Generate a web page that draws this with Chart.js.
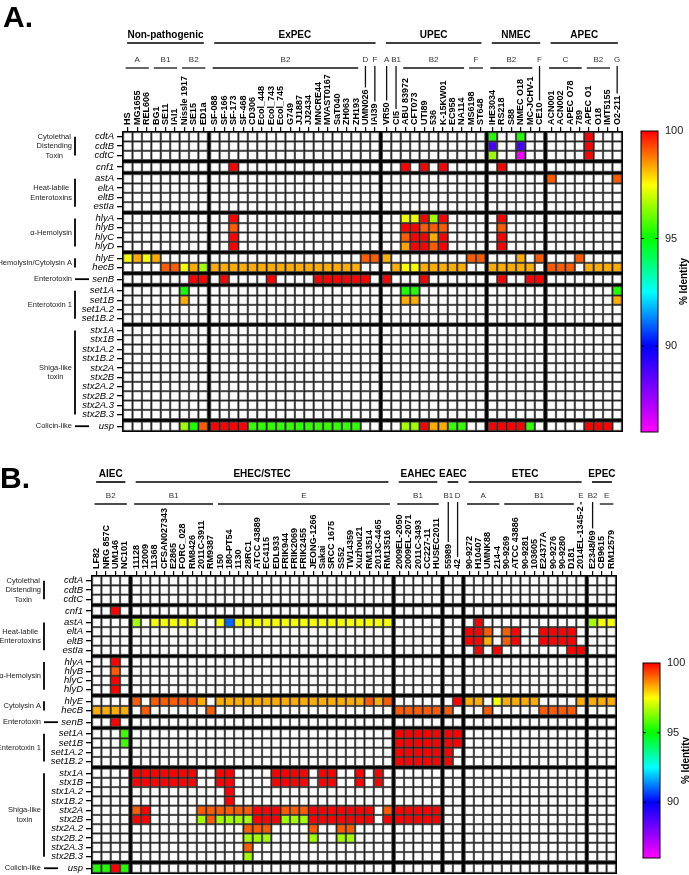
<!DOCTYPE html>
<html>
<head>
<meta charset="utf-8">
<script src="https://cdn.jsdelivr.net/npm/chart.js@4.4.1/dist/chart.umd.min.js"></script>
<style>
  body { margin: 0; background: #fff; width: 689px; height: 875px; overflow: hidden; position: relative; }
  canvas { position: absolute; left: 0; }
  #panelA { top: 0; }
  #panelB { top: 440px; }
</style>
</head>
<body>
<canvas id="panelA" width="689" height="440"></canvas>
<canvas id="panelB" width="689" height="435"></canvas>
<script>
// ---- rows (genes) shared by both panels ----
const genes = ['cdtA','cdtB','cdtC','cnf1','astA','eltA','eltB','estIa','hlyA','hlyB','hlyC','hlyD',
  'hlyE','hecB','senB','set1A','set1B','set1A.2','set1B.2','stx1A','stx1B','stx1A.2','stx1B.2',
  'stx2A','stx2B','stx2A.2','stx2B.2','stx2A.3','stx2B.3','usp'];
const geneBreaks = [3, 4, 8, 12, 14, 15, 19, 29];   // first row of each new block

// ---- panel A columns ----
const strainsA = ['HS','MG1655','REL606','BG1','SE11','IAI1','Nissle 1917','SE15','ED1a',
  'SF-088','SF-166','SF-173','SF-468','CD306','Ecol_448','Ecol_743','Ecol_745','G749','JJ1887','JJ2434',
  'MNCRE44','MVAST0167','SaT040','ZH063','ZH193','UMN026','IAI39',
  'VR50','CI5','ABU 83972','CFT073','UTI89','536','K-15KW01','EC958','NA114','MS6198','ST648',
  'IHE3034','RS218','S88','NMEC O18','MC-JCHV-1','CE10',
  'ACN001','ACN002','APEC O78','789','APEC O1','O18','IMT5155','O2-211'];
const pathotypesA = [['Non-pathogenic',0,8],['ExPEC',9,26],['UPEC',27,37],['NMEC',38,43],['APEC',44,51]];
const phylogroupsA = [['A',0,2],['B1',3,5],['B2',6,8],['B2',9,24],['D',25,25],['F',26,26],['A',27,27],
  ['B1',28,28],['B2',29,35],['F',36,37],['B2',38,42],['F',43,43],['C',44,47],['B2',48,50],['G',51,51]];
const geneGroupsA = [['Cytolethal\nDistending\nToxin',0,2],['Heat-labile\nEnterotoxins',4,7],['α-Hemolysin',8,11],
  ['Hemolysin/Cytolysin A',12,13],['Enterotoxin',14,14],['Enterotoxin 1',15,18],['Shiga-like\ntoxin',19,28],['Colicin-like',29,29]];

// ---- panel A % identity (strain, value) ----
const A_cdtA = [['IHE3034',95.3],['NMEC O18',95.3],['APEC O1',100]];
const A_cdtB = [['IHE3034',88.9],['NMEC O18',88.9],['APEC O1',100]];
const A_cdtC = [['IHE3034',96.5],['NMEC O18',86.2],['APEC O1',100]];
const A_cnf1 = [['SF-173',100],['ABU 83972',100],['UTI89',100],['K-15KW01',100],['RS218',100]];
const A_astA = [['ACN001',99.1],['O2-211',99.1]];
const A_hlyA = [['SF-173',100],['ABU 83972',97.3],['CFT073',97.3],['UTI89',100],['536',96.6],['K-15KW01',100],['RS218',100]];
const A_hlyB = [['SF-173',99.1],['ABU 83972',100],['CFT073',100],['UTI89',99.1],['536',99.1],['K-15KW01',99.1],['RS218',99.1]];
const A_hlyC = [['SF-173',100],['ABU 83972',99.1],['CFT073',100],['UTI89',100],['536',98.3],['K-15KW01',100],['RS218',100]];
const A_hlyD = [['SF-173',100],['ABU 83972',98.4],['CFT073',100],['UTI89',100],['536',99.1],['K-15KW01',100],['RS218',100]];
const A_hlyE = [['HS',97.4],['MG1655',98.3],['REL606',97.4],['BG1',98.3],['UMN026',99.1],['IAI39',99.1],['VR50',98.3],
  ['MS6198',99.1],['ST648',99.1],['NMEC O18',98.3],['CE10',99.1],['789',99.1]];
const A_hecB = [['SE11',99.1],['IAI1',99.1],['Nissle 1917',97.4],['SE15',98.3],['ED1a',96.6],
  ['SF-088',98.3],['SF-166',98.3],['SF-173',98.3],['SF-468',98.3],['CD306',98.3],['Ecol_448',98.3],['Ecol_743',98.3],
  ['Ecol_745',98.3],['G749',98.3],['JJ1887',98.3],['JJ2434',98.3],['MNCRE44',98.3],['MVAST0167',98.3],['SaT040',98.3],
  ['ZH063',98.3],['ZH193',98.3],['CI5',98.3],['ABU 83972',97.4],['CFT073',97.4],['UTI89',98.3],['536',98.3],
  ['K-15KW01',98.3],['EC958',98.3],['NA114',98.3],['IHE3034',98.3],['RS218',98.3],['S88',98.3],['NMEC O18',98.3],
  ['MC-JCHV-1',98.3],['ACN001',99.1],['ACN002',99.1],['APEC O78',99.1],['APEC O1',98.3],['O18',98.3],['IMT5155',98.3],['O2-211',98.3]];
const A_senB = [['SE15',100],['ED1a',100],['SF-166',100],['Ecol_743',100],['MNCRE44',100],['MVAST0167',100],['SaT040',100],
  ['ZH063',100],['ZH193',100],['UMN026',100],['VR50',100],['UTI89',100],['RS218',100],['MC-JCHV-1',100],['CE10',100]];
const A_set1A = [['Nissle 1917',95.2],['ABU 83972',95.3],['CFT073',95.3],['O2-211',95.3]];
const A_set1B = [['Nissle 1917',98.3],['ABU 83972',98.3],['CFT073',98.3],['O2-211',98.3]];
const A_usp = [['Nissle 1917',96.6],['SE15',95.3],['ED1a',99.1],['SF-088',100],['SF-166',100],['SF-173',100],['SF-468',100],
  ['CD306',95.5],['Ecol_448',95.5],['Ecol_743',95.5],['Ecol_745',95.5],['G749',95.5],['JJ1887',95.5],['JJ2434',95.5],
  ['MNCRE44',95.5],['MVAST0167',95.5],['SaT040',95.5],['ZH063',95.5],['ZH193',95.5],['ABU 83972',96.6],['CFT073',96.6],
  ['UTI89',100],['536',98.3],['K-15KW01',98.3],['EC958',95.5],['NA114',95.5],['IHE3034',100],['RS218',100],['S88',100],
  ['NMEC O18',100],['MC-JCHV-1',95.5],['APEC O1',100],['O18',100],['IMT5155',100]];

// ---- panel B columns ----
const strainsB = ['LF82','NRG 857C','UM146','NC101',
  '11128','12009','11368','CFSAN027343','E2865','FORC_028','RM8426','2011C-3911','RM9387',
  '150','180-PT54','1130','28RC1','ATCC 43889','EC4115','EDL933','FRIK944','FRIK2069','FRIK2455','JEONG-1266',
  'Sakai','SRCC 1675','SS52','TW14359','Xuzhou21','RM13514','2013C-4465','RM13516',
  '2009EL-2050','2009EL-2071','2011C-3493','CC227-11','HUSEC2011','55989','42',
  '90-9272','H10407','UMNK88','214-4','90-9269','ATCC 43886','90-9281','103605','E24377A','90-9276','90-9280','D181','2014EL-1345-2',
  'E2348/69','CB9615','RM12579'];
const pathotypesB = [['AIEC',0,3],['EHEC/STEC',4,31],['EAHEC',32,36],['EAEC',37,38],['ETEC',39,51],['EPEC',52,54]];
const phylogroupsB = [['B2',0,3],['B1',4,12],['E',13,31],['B1',32,36],['B1',37,37],['D',38,38],['A',39,42],
  ['B1',43,50],['E',51,51],['B2',52,52],['E',53,54]];
const geneGroupsB = [['Cytolethal\nDistending\nToxin',0,2],['Heat-labile\nEnterotoxins',4,7],['α-Hemolysin',8,11],
  ['Cytolysin A',12,13],['Enterotoxin',14,14],['Enterotoxin 1',15,18],['Shiga-like\ntoxin',19,28],['Colicin-like',29,29]];

// ---- panel B % identity (strain, value) ----
const B_cnf1 = [['UM146',100]];
const B_astA = [['11128',96.6],['11368',97.4],['CFSAN027343',97.4],['E2865',97.4],['FORC_028',97.4],['RM8426',97.4],
  ['150',97.4],['180-PT54',91],['1130',97.4],['28RC1',97.4],['ATCC 43889',97.4],['EC4115',97.4],['EDL933',97.4],
  ['FRIK944',97.4],['FRIK2069',97.4],['FRIK2455',97.4],['JEONG-1266',97.4],['Sakai',97.4],['SRCC 1675',97.4],['SS52',97.4],
  ['TW14359',97.4],['Xuzhou21',97.4],['RM13514',97.4],['2013C-4465',97.4],['RM13516',97.4],['H10407',100],
  ['E2348/69',96.6],['CB9615',97.4],['RM12579',97.4]];
const B_eltA = [['90-9272',100],['H10407',100],['UMNK88',99.1],['90-9269',99.1],['ATCC 43886',100],['E24377A',100],
  ['90-9276',100],['90-9280',100],['D181',100]];
const B_eltB = [['90-9272',100],['H10407',100],['UMNK88',98.3],['90-9269',99.1],['ATCC 43886',100],['E24377A',100],
  ['90-9276',100],['90-9280',100],['D181',100]];
const B_estIa = [['H10407',100],['214-4',100],['D181',100],['2014EL-1345-2',100]];
const B_hlyA = [['UM146',100]];
const B_hlyB = [['UM146',99.1]];
const B_hlyC = [['UM146',100]];
const B_hlyD = [['UM146',100]];
const B_hlyE = [['11128',99.1],['11368',99.1],['CFSAN027343',99.1],['E2865',99.1],['FORC_028',99.1],['RM8426',99.1],
  ['2011C-3911',98.3],['150',98.3],['180-PT54',98.3],['1130',98.3],['28RC1',98.3],['ATCC 43889',98.3],['EC4115',98.3],
  ['EDL933',98.3],['FRIK944',98.3],['FRIK2069',98.3],['FRIK2455',98.3],['JEONG-1266',98.3],['Sakai',98.3],
  ['SRCC 1675',98.3],['SS52',98.3],['TW14359',98.3],['Xuzhou21',98.3],['RM13514',99.1],['2013C-4465',98.3],['RM13516',99.1],
  ['42',100],['90-9272',98.3],['H10407',98.3],['214-4',97.4],['90-9269',98.3],['ATCC 43886',98.3],['90-9281',98.3],
  ['103605',98.3],['2014EL-1345-2',98.3],['E2348/69',98.3],['CB9615',98.3],['RM12579',98.3]];
const B_hecB = [['LF82',98.3],['NRG 857C',98.3],['UM146',98.3],['NC101',98.3],['12009',99.1],['RM9387',99.1],
  ['2009EL-2050',99.1],['2009EL-2071',99.1],['2011C-3493',99.1],['CC227-11',99.1],['HUSEC2011',99.1],['55989',99.1],
  ['UMNK88',99.1],['E24377A',99.1],['90-9276',99.1],['90-9280',99.1],['D181',99.1]];
const B_senB = [['UM146',100]];
const B_set1A = [['NC101',95.6],['2009EL-2050',100],['2009EL-2071',100],['2011C-3493',100],['CC227-11',100],['HUSEC2011',100],['55989',100],['42',100]];
const B_set1B = [['NC101',95.6],['2009EL-2050',100],['2009EL-2071',100],['2011C-3493',100],['CC227-11',100],['HUSEC2011',100],['55989',100],['42',100]];
const B_set1A2 = [['2009EL-2050',100],['2009EL-2071',100],['2011C-3493',100],['CC227-11',100],['HUSEC2011',100],['55989',100]];
const B_set1B2 = [['2009EL-2050',100],['2009EL-2071',100],['2011C-3493',100],['CC227-11',100],['HUSEC2011',100],['55989',100]];
const B_stx1A = [['11128',100],['12009',100],['11368',100],['CFSAN027343',100],['E2865',100],['FORC_028',100],['RM8426',100],
  ['150',100],['180-PT54',100],['EDL933',100],['FRIK944',100],['FRIK2069',100],['FRIK2455',100],['Sakai',100],
  ['SRCC 1675',100],['Xuzhou21',100],['2013C-4465',100]];
const B_stx1B = [['11128',100],['12009',100],['11368',100],['CFSAN027343',100],['E2865',100],['FORC_028',100],['RM8426',100],
  ['150',100],['180-PT54',100],['EDL933',100],['FRIK944',100],['FRIK2069',100],['FRIK2455',100],['Sakai',100],
  ['SRCC 1675',100],['Xuzhou21',100],['2013C-4465',100]];
const B_stx1A2 = [['180-PT54',100]];
const B_stx1B2 = [['180-PT54',100]];
const B_stx2A = [['11128',99.1],['12009',100],['2011C-3911',99.1],['RM9387',99.1],['150',99.1],['180-PT54',99.1],
  ['1130',99.1],['28RC1',99.1],['ATCC 43889',100],['EC4115',100],['EDL933',100],['FRIK944',99.1],['FRIK2069',99.1],
  ['FRIK2455',99.1],['JEONG-1266',100],['Sakai',100],['SRCC 1675',100],['SS52',100],['TW14359',100],['Xuzhou21',100],
  ['RM13514',100],['RM13516',99.1],['2009EL-2050',100],['2009EL-2071',100],['2011C-3493',100],['CC227-11',100],['HUSEC2011',100]];
const B_stx2B = [['11128',100],['12009',100],['2011C-3911',96.6],['RM9387',99.1],['150',96.6],['180-PT54',96.6],
  ['1130',96.6],['28RC1',96.6],['ATCC 43889',100],['EC4115',100],['EDL933',100],['FRIK944',96.6],['FRIK2069',96.6],
  ['FRIK2455',96.6],['JEONG-1266',100],['Sakai',100],['SRCC 1675',100],['SS52',100],['TW14359',100],['Xuzhou21',100],
  ['RM13514',100],['RM13516',100],['2009EL-2050',100],['2009EL-2071',100],['2011C-3493',100],['CC227-11',100],['HUSEC2011',100]];
const B_stx2A2 = [['28RC1',99.1],['ATCC 43889',99.1],['EC4115',99.1],['JEONG-1266',99.1],['SS52',99.1],['TW14359',99.1]];
const B_stx2B2 = [['28RC1',96.6],['ATCC 43889',96.6],['EC4115',96.6],['JEONG-1266',96.6],['SS52',96.6],['TW14359',96.6]];
const B_stx2A3 = [['28RC1',99.1]];
const B_stx2B3 = [['28RC1',96.6]];
const B_usp = [['LF82',95.3],['NRG 857C',95.3],['UM146',100],['NC101',95.3]];

const identityA = {cdtA: A_cdtA, cdtB: A_cdtB, cdtC: A_cdtC, cnf1: A_cnf1, astA: A_astA, hlyA: A_hlyA, hlyB: A_hlyB,
  hlyC: A_hlyC, hlyD: A_hlyD, hlyE: A_hlyE, hecB: A_hecB, senB: A_senB, set1A: A_set1A, set1B: A_set1B, usp: A_usp};
const identityB = {cnf1: B_cnf1, astA: B_astA, eltA: B_eltA, eltB: B_eltB, estIa: B_estIa, hlyA: B_hlyA, hlyB: B_hlyB,
  hlyC: B_hlyC, hlyD: B_hlyD, hlyE: B_hlyE, hecB: B_hecB, senB: B_senB, set1A: B_set1A, set1B: B_set1B,
  'set1A.2': B_set1A2, 'set1B.2': B_set1B2, stx1A: B_stx1A, stx1B: B_stx1B, 'stx1A.2': B_stx1A2, 'stx1B.2': B_stx1B2,
  stx2A: B_stx2A, stx2B: B_stx2B, 'stx2A.2': B_stx2A2, 'stx2B.2': B_stx2B2, 'stx2A.3': B_stx2A3, 'stx2B.3': B_stx2B3, usp: B_usp};

// ---- drawing ----
const FONT = '"Liberation Sans", Arial, Helvetica, sans-serif';
Chart.defaults.font.family = FONT;
const GAP = 0.25, PAD = 0.12, CELL = 0.87;

// rainbow scale: 100 red, 95 green, 90 blue, 86 magenta
function idColor(v) {
  if (v == null) return '#ffffff';
  let h = v >= 90 ? (100 - v) * 24 : 240 + (90 - v) * 15;
  h = Math.max(0, Math.min(300, h));
  return 'hsl(' + h + ',100%,50%)';
}

function positions(n, breaks) {
  const out = [];
  let g = 0;
  for (let i = 0; i < n; i++) {
    if (breaks.includes(i)) g++;
    out.push(i + g * GAP);
  }
  return out;
}

// stop the tick paddings from shrinking the plot area
function noPad(s) {
  s.paddingTop = 0; s.paddingBottom = 0; s.paddingLeft = 0; s.paddingRight = 0;
}

function decor(P, xs, ys) {
  return {
    id: 'decor',
    beforeDatasetsDraw(chart) {
      const {ctx, chartArea: a} = chart;
      ctx.save();
      ctx.fillStyle = '#000';
      ctx.fillRect(a.left, a.top, a.right - a.left, a.bottom - a.top);
      ctx.restore();
    },
    afterDraw(chart) {
      const {ctx, chartArea: a, scales} = chart;
      const X = v => scales.x.getPixelForValue(v);
      const Y = v => scales.y.getPixelForValue(v);
      const line = (x1, y1, x2, y2, w) => {
        ctx.lineWidth = w; ctx.beginPath(); ctx.moveTo(x1, y1); ctx.lineTo(x2, y2); ctx.stroke();
      };
      ctx.save();
      ctx.fillStyle = '#000';
      ctx.strokeStyle = '#000';
      ctx.textBaseline = 'alphabetic';

      ctx.font = 'bold 30px ' + FONT;
      ctx.textAlign = 'left';
      ctx.fillText(P.letter, P.letterX, P.letterY);

      // pathotype headers
      ctx.font = 'bold 10px ' + FONT;
      ctx.textAlign = 'center';
      P.pathotypes.forEach(([name, i, j]) => {
        const l = X(xs[i] - 0.5) + 4, r = X(xs[j] + 0.5) - 4;
        ctx.fillText(name, (l + r) / 2, P.pathY);
        line(l, P.pathY + 5, r, P.pathY + 5, 1.6);
      });

      // phylogroups
      const tickFont = 'bold 9px ' + FONT, phyFont = '8px ' + FONT;
      ctx.fillStyle = '#333';
      ctx.strokeStyle = '#111';
      P.phylo.forEach(([name, i, j]) => {
        ctx.font = phyFont;
        if (i === j) {
          const x = X(xs[i]);
          ctx.fillText(name, x, P.phyY);
          ctx.font = tickFont;
          const top = a.top - 6 - ctx.measureText(P.strains[i]).width;
          if (top - 2 > P.phyY + 6) line(x, P.phyY + 4, x, top - 2, 1.3);
        } else {
          const l = X(xs[i] - 0.5) + 2.5, r = X(xs[j] + 0.5) - 2.5;
          ctx.fillText(name, (l + r) / 2, P.phyY);
          line(l, P.phyY + 6, r, P.phyY + 6, 1.3);
        }
      });

      // gene group labels with brackets
      ctx.font = '7.5px ' + FONT;
      ctx.fillStyle = '#222';
      ctx.strokeStyle = '#000';
      ctx.textBaseline = 'middle';
      P.geneGroups.forEach(([text, i, j]) => {
        const y0 = Y(ys[i]), y1 = Y(ys[j]), cy = (y0 + y1) / 2;
        const rows = text.split('\n');
        const w = Math.max(...rows.map(t => ctx.measureText(t).width));
        const cx = Math.min(a.left - 66, a.left - 50 - w / 2);
        rows.forEach((t, k) => ctx.fillText(t, cx, cy + (k - (rows.length - 1) / 2) * 9.5));
        const bx = a.left - 47;
        if (i === j) line(bx, cy, bx + 14, cy, 1.8);
        else line(bx, y0, bx, y1, 1.8);
      });

      // colour bar
      const cb = scales.cb;
      const t = cb.getPixelForValue(100), b = cb.getPixelForValue(86);
      const x0 = a.right + P.cbOff, w = 17;
      const g = ctx.createLinearGradient(0, t, 0, b);
      for (let k = 0; k <= 28; k++) g.addColorStop(k / 28, idColor(100 - k * 0.5));
      ctx.fillStyle = g;
      ctx.fillRect(x0, t, w, b - t);
      ctx.strokeStyle = '#000';
      ctx.lineWidth = 1;
      ctx.strokeRect(x0, t, w, b - t);
      [90, 95].forEach(v => {
        const y = cb.getPixelForValue(v);
        line(x0, y, x0 + 3, y, 1);
        line(x0 + w - 3, y, x0 + w, y, 1);
      });
      ctx.fillStyle = '#000';
      ctx.font = 'bold 10px ' + FONT;
      ctx.textAlign = 'center';
      ctx.translate(a.right + P.titleOff, (t + b) / 2);
      ctx.rotate(-Math.PI / 2);
      ctx.fillText('% Identity', 0, 0);
      ctx.restore();
    }
  };
}

function makePanel(canvasId, P) {
  const xs = positions(P.strains.length, P.strainBreaks);
  const ys = positions(genes.length, geneBreaks);
  const cells = [];
  genes.forEach((gene, r) => {
    const vals = new Map(P.identity[gene] || []);
    P.strains.forEach((s, c) => cells.push({x: xs[c], y: ys[r], v: vals.has(s) ? vals.get(s) : null}));
  });
  // colour-bar axis: 100..86 between cbTop and cbBottom
  const upp = 14 / (P.cbBottom - P.cbTop);
  const cbMax = 100 + (P.cbTop - P.areaTop) * upp;
  const cbMin = 86 - (P.areaBottom - P.cbBottom) * upp;

  return new Chart(document.getElementById(canvasId), {
    type: 'scatter',
    data: {
      datasets: [{
        data: cells,
        pointStyle: 'rect',
        pointRadius: c => {
          const s = c.chart.scales.x;
          return (s.getPixelForValue(1) - s.getPixelForValue(0)) * CELL / Math.SQRT2;
        },
        pointBackgroundColor: c => idColor(c.raw ? c.raw.v : null),
        pointBorderColor: '#4a4a4a',
        pointBorderWidth: 0.8
      }]
    },
    options: {
      responsive: false,
      animation: false,
      events: [],
      layout: {padding: {top: 0, left: 0, right: 0, bottom: P.padBottom}},
      plugins: {legend: {display: false}, tooltip: {enabled: false}},
      scales: {
        x: {
          type: 'linear', position: 'top',
          min: xs[0] - 0.5 - PAD, max: xs[xs.length - 1] + 0.5 + PAD,
          afterFit: s => { s.height = P.areaTop; noPad(s); },
          afterBuildTicks: s => { s.ticks = xs.map(v => ({value: v})); },
          ticks: {
            autoSkip: false, minRotation: 90, maxRotation: 90, padding: 2, color: '#000',
            labelOffset: 10.8,
            font: {size: 9, weight: 'bold'},
            callback: (v, i) => P.strains[i]
          },
          grid: {drawOnChartArea: false, drawTicks: true, tickLength: 4, color: '#000', lineWidth: 1.2},
          border: {display: false}
        },
        y: {
          type: 'linear', position: 'left', reverse: true,
          min: ys[0] - 0.5 - PAD, max: ys[ys.length - 1] + 0.5 + PAD,
          afterFit: s => { s.width = P.leftW; noPad(s); },
          afterBuildTicks: s => { s.ticks = ys.map(v => ({value: v})); },
          ticks: {
            autoSkip: false, padding: 3, color: '#000',
            font: {size: 9.5, style: 'italic'},
            callback: (v, i) => genes[i]
          },
          grid: {drawOnChartArea: false, drawTicks: true, tickLength: 5, color: '#000', lineWidth: 1.3},
          border: {display: false}
        },
        cb: {
          type: 'linear', position: 'right', min: cbMin, max: cbMax,
          afterFit: s => { s.width = P.rightW; noPad(s); },
          afterBuildTicks: s => { s.ticks = [90, 95, 100].map(v => ({value: v})); },
          ticks: {padding: P.cbPad, color: '#222', font: {size: 11}, callback: v => String(v)},
          grid: {display: false, drawTicks: false},
          border: {display: false}
        }
      }
    },
    plugins: [decor(P, xs, ys)]
  });
}

makePanel('panelA', {
  letter: 'A.', letterX: 3, letterY: 27,
  strains: strainsA, strainBreaks: [9, 27, 38, 44], identity: identityA,
  pathotypes: pathotypesA, phylo: phylogroupsA, geneGroups: geneGroupsA,
  pathY: 38, phyY: 62,
  areaTop: 131, areaBottom: 432, padBottom: 8, leftW: 122, rightW: 66,
  cbTop: 131, cbBottom: 432, cbOff: 18, cbPad: 42, titleOff: 61
});

makePanel('panelB', {
  letter: 'B.', letterX: 0, letterY: 48,
  strains: strainsB, strainBreaks: [4, 32, 37, 39, 52], identity: identityB,
  pathotypes: pathotypesB, phylo: phylogroupsB, geneGroups: geneGroupsB,
  pathY: 37, phyY: 58,
  areaTop: 135, areaBottom: 434, padBottom: 1, leftW: 91, rightW: 72,
  cbTop: 223, cbBottom: 418, cbOff: 26, cbPad: 50, titleOff: 69
});
</script>
</body>
</html>
